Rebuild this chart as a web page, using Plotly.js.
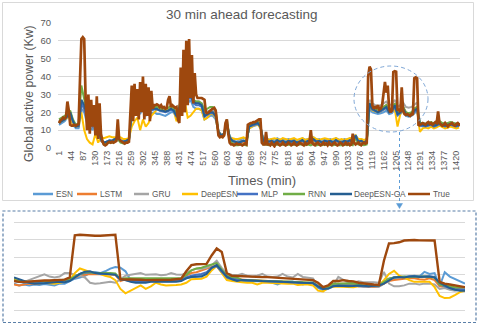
<!DOCTYPE html>
<html><head><meta charset="utf-8">
<script src="https://cdn.plot.ly/plotly-3.0.1.min.js"></script>
<style>html,body{margin:0;padding:0;background:#fff;}#chart{width:480px;height:326px;}</style>
</head><body><div id="chart"></div>
<script>
// ---------------- DATA ----------------
const seriesNames = ["ESN","LSTM","GRU","DeepESN","MLP","RNN","DeepESN-GA","True"];
const seriesColors = ["#5B9BD5","#ED7D31","#A5A5A5","#FFC000","#4472C4","#70AD47","#255E91","#9E480E"];
const xTickLabels = [1,44,87,130,173,216,259,302,345,388,431,474,517,560,603,646,689,732,775,818,861,904,947,990,1033,1076,1119,1162,1205,1248,1291,1334,1377,1420];

// True series, one value every 5 minutes starting at minute 1
const trueStartMin = 1, trueStepMin = 5;
const trueValues = [
14,15.5,16,17,16.5,17.5,26,21,13,12.5,
12.5,13,12.5,13,13.5,38,61,62,61,28,
10,30,8,27,12,24,7,29,5,25,
8,4,2,1.5,2,3,3.5,3,3.5,3,
3.5,4,16,5,4,3.5,3,2.5,3,3,
3.5,20,35,15,36,18,33,16,37,20,
40,16,36,18,34,15,32,22,24,24,
24.5,24,23,24,22.5,23,22,22.5,27,29,
23,24,23,22.5,23,16,14,45,18,55,
20,60,24,61,28,52,25,42,30,28,
28,28,28,27.5,27,20,19.5,20,21,21.5,
22,22.5,21,12,7,6,6.5,6,7,14,
16,8,3,2,2,1.5,2,2.5,2,2,
2,1.5,2,2.5,2,13,13.5,14,14,14.5,
14.5,15,15.5,16,16,3,2,2,9,2,
2,1.5,3,2,1,2.5,3,2,1.5,2,
3,2,1.5,2,3,2.5,1.5,2,3,2,
1.5,2,3,2.5,2,1.5,3,2,2.5,3,
10,3,2,1.5,2.5,3,2,1.5,2,3,
2,2.5,1.5,3,2,1.5,2.5,3,2,1.5,
2,3,2.5,1.5,2,3,2,2.5,1.5,2,
8,3,2,2.5,3,2,1.5,2.5,3,2.5,
3,40,45.5,44,24,22,23,22.5,24,21.5,
22,24,30,37,31,35,22,20,21,42.5,
43,42.7,21,22,20,34,21,19,18.5,19,
18.5,18,19,18.5,39,39.5,39,12.5,13,13.5,
14,13.5,13,14,14.5,13.5,14,13,14,14.5,
14,20.5,14,13,12.5,13,14,13,12,13,
13.5,14,13,12.5,13.5,14,13,13.5];

// Forecasts, one value every 10 minutes starting at minute 1
const predStartMin = 1, predStepMin = 10;
const esnValues = [
13,14,15,17,19,13,11,11,22,20,14,12,
10,14,9,4,2.5,3,4.5,4,5.5,5,4.5,4,
4.5,4,17,19,22,19,23,18,20,19.5,20,19,
19,18.5,18,19,20,20,17,20,29,31,25,27,
23,22,22,21,16,17,18,18,16,9,7.5,8,
13,6.5,5,5,4.5,5,5.5,5,11,12,12.5,13,
12,5,5.5,4.5,5,4,5.5,4.5,5,4.5,5,4.5,
5,4.5,4,5.5,4.5,5,4.5,6,4.5,5,4,5,
4.5,5,4,5.5,4.5,4,5,4.5,5.5,4,7.5,4.5,
5,4,5,22,20,19.5,19,19.5,20,21,19,19.5,
22,18,19,20.5,18,17.5,18,19.5,20.5,12.5,12,12,
12.5,13,12,12.5,13,12.5,12,12.5,13,12.5,12,12.5];
const lstmValues = [
14.5,15.5,16,17.5,19,14,12.5,12.5,25,22,16,14,
12,15,11,4,2.5,3,3.5,3.5,5,5.5,4,3.5,
3.5,4.5,18,21,23,21,25,20,22,21.5,22,22,
22,21.5,21,21.5,22.5,21.5,17.5,21,31,33,27,29,
26,25.5,25,24.5,19,19.5,20.5,20.5,18.5,8.5,6.5,7,
13,5,3,2.5,2.5,3,3.5,3,12.5,13.5,14,14.5,
12,3,3.5,2.5,3,2.5,3.5,2.5,3,2.5,3,2.5,
3,2.5,3,3.5,2.5,3,2.5,4,2.5,3,2.5,3,
2.5,3,2.5,3.5,2.5,2.5,3,2.5,3.5,2.5,6.5,3,
3,2.5,3.5,24,22,21.5,21,21.5,23,24,21,21.5,
25,20,20.5,23,20,19,19.5,22,23,13.5,13.5,13,
13.5,14,13,13.5,14.5,13.5,13,13.5,14,13.5,13,13.5];
const gruValues = [
15,16,16.5,18,20,15,13,13,26,23,17,15,
13,16,12,5,3,3.5,4,4,5.5,6,4.5,4,
4,5,19,22,24,22,26,21,23,22,22.5,22.5,
22,22,21.5,22,23,22,18.5,22,32,34,28,30,
27,26,26,25,20,20.5,21,21,19,9.5,7.5,8,
14,6,4,3.5,3.5,4,4,3.5,13,14,14,14.5,
12.5,4,4,3.5,4,3.5,4,3.5,4,3.5,4,3.5,
4,3.5,3.5,4,3.5,4,3.5,4.5,3.5,4,3.5,4,
3.5,4,3.5,4,3.5,3.5,4,3.5,4,3.5,7,4,
4,3.5,4,27,25,24,23.5,24,25,26,24,24.5,
27,23,24,25.5,23,22.5,23,24.5,25.5,14,14,13.5,
14,14.5,13.5,14,15,14,13.5,14,14.5,14,13.5,14];
const deepEsnValues = [
14,15,16,17,18,13,12,12,20,10,5,3,
2,8,3,6,5.5,6,6.5,6,6,5.5,6,5,
5,5.5,12,15,17,10,16,12,14,18,20,21.5,
22,21.5,21,21.5,22,21,15,18,20,26,17,18,
20,22,22,21,16,17,19,19,17,8,6,7,
13,5,5.5,5,5,5.5,6,5,11,12,13,13.5,
11,5,5.5,4.5,5,5.5,5,4.5,5.5,5,4.5,5,
5.5,4.5,5,5.5,4.5,5,5.5,6,5,4.5,5,5.5,
5,4.5,5,5.5,4.5,5,4.5,5,5.5,4.5,7,5,
5,4.5,5,24,21,20.5,20,20.5,21.5,22.5,20,20.5,
22,12,19,21,19,18,19,20.5,21,9,11,11.5,
11,12,11,11.5,12.5,11.5,11,11.5,12,11.5,11,11.5];
const mlpValues = [
14,15,16,17.5,19.5,14.5,12,12,25,22,16,13.5,
12,15.5,11,4.5,3,3.5,4,4,5,5.5,4,3.5,
4,4.5,19,21,24,21,26,20,22,21,21.5,21.5,
21,20.5,20,20.5,21.5,20.5,17.5,21,31,33,27,29,
25,24,24,23,17.5,18.5,19.5,19.5,17.5,9,7,7.5,
13.5,5.5,4,3.5,3,3.5,4,3.5,12,12.5,13,13.5,
12,4,4,3.5,4,3,4,3.5,4,3,4,3.5,
4,3,3.5,4,3,4,3.5,4.5,3.5,4,3,4,
3.5,4,3,4,3.5,3,4,3.5,4,3,7,3.5,
4,3,4,24,21.5,20.5,20,20.5,21.5,22.5,20,20.5,
23,18.5,19.5,21.5,19,18,19,20.5,21.5,12.5,12.5,12,
12.5,13,12,12.5,13.5,12.5,12,12.5,13,12.5,12,12.5];
const rnnValues = [
16,17,18,19,21,16,13,13.5,35,27,20,17,
15,19,14,5.5,2,2.5,3,3,4,5,3,2.5,
3,4,21,23,27,24,28,23,24,23,23,23,
22.5,22,22,22.5,23.5,22.5,19,23,32,33,30,31,
27,26,26,25,21,22,23,23,21,9,7,8,
16,5.5,2.5,1.5,1.5,2,2,1.5,13,14,14.5,15,
13,2,2,1.5,2,1.5,2,1.5,2,1.5,2,1.5,
2,1.5,2,2,1.5,2,1.5,2.5,1.5,2,1.5,2,
1.5,2,1.5,2,1.5,1.5,2,1.5,2,1.5,6,2,
2,1.5,2,25,23,22,21.5,22,23,24,22,22,
25,20.5,21,23,20,19.5,20,22,23,14,14,13.5,
14,14.5,13.5,14,15,14,13.5,14,14.5,14,13.5,14];
const deepEsnGaValues = [
14,15,16,18,20,15,12,12.5,27,24,18,15,
13,17,12,5,3,3.5,4,4,5,6,4,3.5,
4,5,20,22,25,22,27,21,23,22,22,22,
21,21,20.5,21,22,21,18,22,33,35,28,30,
26,25,25,24,18,19,20,20,18,9,7,8,
14,6,4,3.5,3,3.5,4,3.5,12,13,13.5,14,
12,4,4.5,3.5,4,3,4.5,3.5,4,3,4,3.5,
4,3,3.5,4.5,3,4,3.5,5,3.5,4,3,4,
3.5,4,3,4.5,3.5,3,4,3.5,4.5,3,7,3.5,
4,3,4,25,22,21,20,21,22,23,20,21,
24,19,20,22,19,18,19,21,22,13,13,12.5,
13,13.5,12.5,13,14,13,12.5,13,13.5,13,12.5,13];

// Zoomed detail (inset), one value per step
const insetEsn = [15,14,14.5,14,14.5,14.2,14.8,14.5,14,15,15,16.5,17.8,18.5,19.5,21,21.6,21,22,23.5,24.4,24,22,17,17.5,16.5,17,16.5,17.5,17,16.8,17.3,17,17.3,18,18.8,19,19.5,20.5,23.5,25,21.5,17.8,17,17,16.5,16.3,16.3,16.5,16.2,16.3,15.5,14.5,15.8,16,16.2,15.5,14.5,15.5,15.8,12.5,11.3,12,13.5,14,14,14,14.2,13.5,13.2,13.1,13.3,13.2,15,17.8,18.5,18.8,18.5,19,19.5,19,21.7,20.5,21,13.5,21.5,19,17.8,16.5,15];
const insetLstm = [14.5,14,14.5,15,15,15.2,15.5,15.8,16,16.5,17,17.5,18.5,19.7,20,20.5,20.3,20.6,20.5,20.2,20,16.5,17.5,17.8,17.5,17.5,17.5,17.6,17.5,17.5,17.6,17.5,17.5,17.8,19.5,21,21.5,22.5,23.5,24.5,25.5,22,18.8,17.8,17.5,17,17,16.9,16.8,16.8,16.7,16.6,16.5,16.4,16.3,16.2,16,16,15.5,15,14,13,13.5,15,15,15,15.1,15,13.5,13.2,13.3,13.2,13.5,15,16.5,17,17.5,17.8,18,18,17.5,17.2,18,17,13.5,13,12.8,12.5,12.5,12.5];
const insetGru = [16.9,16,16,17,18,19,20.3,19,18.5,19,21,21,20,19.5,18.5,15.5,15,15.2,15.5,16,15.5,17.5,19.5,20,20.5,21,20,20,20.3,19.8,20,21,20.2,20,21,22.5,23.5,23.5,24,25.5,28,24,20.5,20,19.7,20.6,19.5,19,19.5,20.5,19,18.8,19,20.5,19,18.5,20.5,18.8,18.5,18,13.5,12,13,14,18.8,17,15.5,15.5,16.3,15.8,16,15.8,15.5,21.6,15,13.5,13.5,14,15,15,14.5,15,15,14.5,12,12.5,11.5,11,11.5,12];
const insetDeepEsn = [17.8,16.9,15.5,15.3,15,15.2,15.5,15.3,15,15.5,16,17,21,23.6,22.5,21.6,21,20.5,19.5,18.8,17,12,9.5,11,12.3,14,12,13.5,15.5,14.5,14,14,14.2,14.5,15.5,17.5,17.8,17.8,19,22.5,25,21,17,16.5,16,15.8,15.5,15.5,14.5,15.5,15.5,15.3,15.2,15,15,15,14.2,14.5,14.5,14,11,10.5,12.5,13.3,13.3,13.2,13.1,13,13.5,14,14,13.8,14,17,20.5,22.3,19.5,18.5,17,16,16,16,16,13,8,6.8,7,8.5,10.2,11];
const insetMlp = [16.5,16,15.5,15.5,15.8,16,15.8,16,16.2,16.5,16.5,17,19,20.5,21,21.5,21,20.5,20.8,20.5,20.3,17.5,17,16.5,16.5,16.3,16.5,16.3,16.5,16.3,16.5,16.3,16.5,17,18.5,19.5,20,20.5,21.5,24,25,22,18.5,17.8,17.3,17,16.8,16.7,16.5,16.5,16.4,16.3,16.2,16,16,15.8,15.7,15.5,15.3,15.2,13,12,12.5,14,14.2,14.2,14,14,13.8,13.5,13.5,13.6,13.8,15.5,17.5,18.5,18.8,18.8,19,19,19.2,19,19.2,18.8,14.5,13.5,12.5,12,11.8,11.5];
const insetRnn = [16.9,16.5,16,16,16.3,16.5,16.2,16.5,16.5,16.8,17,17.5,19,20.5,21.5,21.5,21,21.2,21,21,20.8,17.5,18,18,18,18,17.8,18,17.8,18,17.8,18,18,18.2,20,22.5,23.6,24,25,26,26.7,23,19.5,18.7,18.5,17,17,16.8,16.8,16.7,16.5,16.5,16.3,16.5,16.2,16,16,15.8,15.7,15.5,13.5,12.5,13,15,15,15,15,15.2,14.5,14,14.2,14,14,16,17.8,18.5,18.8,19,18.8,19,18.8,19,18.8,18.5,14.5,14,13.5,13,13,13];
const insetDeepEsnGa = [18.5,17.5,16.5,15.5,15,15,15.2,15.5,15.8,16,15.8,16.5,18.5,20.5,21.8,22,21,20.8,20.5,20.5,20,17.5,17,16,15.5,15.5,15.5,16,16,16,15.8,16,16,16.5,18,18.8,19,19,20.5,24,25.6,22,19,17.5,16.5,17,17,16.8,16.7,16.5,16.5,16.3,16.2,16,16,15.8,15.7,15.5,15.5,15.3,13.5,12,12.2,13.5,13.8,13.5,13.5,13.6,14,13.8,13.5,13.8,14,15,17,18.5,18.8,18.5,19,19.2,18.8,18.8,19,18.5,15.5,14,12.5,11.5,11,11];
const insetTrue = [16.5,16,16,16.3,16.5,16.5,16.8,16.8,17,17,17.3,18.5,42.5,42.8,42.5,42.3,42.2,42.2,42.3,42.5,42.8,17.5,17.5,17.5,17.3,17.2,17,17,16.9,16.9,17,17.2,17.5,17.8,22,25.5,26,26,26.2,31,35,33,21,19.5,19.3,19.2,19,19,18.8,18.7,18.7,18.5,18.4,18.3,18.2,18,17.8,17.6,17.3,17,15.5,13,14,16.5,16.5,17,16.5,16.3,15.5,15,14.8,14.5,14.3,28,37.8,38,38.5,39.5,39.8,39.8,39.6,39.5,39.5,39.5,16,15,14.5,14,13.5,13];

// ---------------- BUILD ----------------
function times(start, step, n){ const a=[]; for(let i=0;i<n;i++) a.push(start+i*step); return a; }
const predSeries = [esnValues,lstmValues,gruValues,deepEsnValues,mlpValues,rnnValues,deepEsnGaValues];
const insetSeries = [insetEsn,insetLstm,insetGru,insetDeepEsn,insetMlp,insetRnn,insetDeepEsnGa,insetTrue];

const W=480,H=326;
const px = x => x/W;
const py = y => 1 - y/H;

const traces = [];
predSeries.forEach((vals,i)=>{
  traces.push({x:times(predStartMin,predStepMin,vals.length), y:vals, type:'scatter', mode:'lines',
    name:seriesNames[i], line:{color:seriesColors[i], width:2}, xaxis:'x', yaxis:'y', hoverinfo:'skip'});
});
traces.push({x:times(trueStartMin,trueStepMin,trueValues.length), y:trueValues, type:'scatter', mode:'lines',
  name:'True', line:{color:seriesColors[7], width:2.7}, xaxis:'x', yaxis:'y', hoverinfo:'skip'});
insetSeries.forEach((vals,i)=>{
  traces.push({x:times(0,1,vals.length), y:vals, type:'scatter', mode:'lines',
    name:seriesNames[i], line:{color:seriesColors[i], width:(i===7?2.4:2)}, xaxis:'x2', yaxis:'y2', hoverinfo:'skip', showlegend:false});
});

const txt = '#595959';
const baseFont = 'Liberation Sans, Arial, sans-serif';
const shapes = [
  {type:'rect', xref:'paper', yref:'paper', x0:px(2.5), x1:px(473.5), y0:py(200.5), y1:py(2.5), line:{color:'#D9D9D9', width:1}, layer:'below'},
  {type:'rect', xref:'paper', yref:'paper', x0:px(3), x1:px(476), y0:py(322.5), y1:py(211), line:{color:'#5A7FA8', width:1.2, dash:'3px,2px'}, layer:'above'},
  {type:'circle', xref:'paper', yref:'paper', x0:px(354), x1:px(428), y0:py(132), y1:py(66), line:{color:'#7FA7D6', width:1, dash:'4px,3px'}, layer:'above'},
  {type:'line', xref:'paper', yref:'paper', x0:px(399.5), x1:px(399.5), y0:py(132), y1:py(204), line:{color:'#5B9BD5', width:1, dash:'3px,3px'}, layer:'above'},
  {type:'path', xref:'paper', yref:'paper', path:`M ${px(396.5)} ${py(203.5)} L ${px(402.5)} ${py(203.5)} L ${px(399.5)} ${py(208.5)} Z`, fillcolor:'#5B9BD5', line:{color:'#5B9BD5', width:0.5}, layer:'above'}
];
const legendLines = [[33,53],[77,97],[134,149],[182,198],[237,258],[283,305],[330,352],[408,430]];
const legendText = [55,99,151,200,260,307,353,432];
const legendY = 194;
const annotations = [
  {text:'30 min ahead forecasting', xref:'paper', yref:'paper', x:px(241.5), y:py(15), xanchor:'center', yanchor:'middle', showarrow:false, font:{family:baseFont, size:13.5, color:txt}},
  {text:'Times (min)', xref:'paper', yref:'paper', x:px(262), y:py(180.5), xanchor:'center', yanchor:'middle', showarrow:false, font:{family:baseFont, size:13, color:txt}},
  {text:'Global active power (Kw)', xref:'paper', yref:'paper', x:px(29), y:py(94), xanchor:'center', yanchor:'middle', textangle:-90, showarrow:false, font:{family:baseFont, size:12.3, color:txt}}
];
seriesNames.forEach((n,i)=>{
  shapes.push({type:'line', xref:'paper', yref:'paper', x0:px(legendLines[i][0]), x1:px(legendLines[i][1]), y0:py(legendY), y1:py(legendY), line:{color:seriesColors[i], width:2.5}});
  annotations.push({text:n, xref:'paper', yref:'paper', x:px(legendText[i]-1), y:py(legendY), xanchor:'left', yanchor:'middle', showarrow:false,
    font:{family:baseFont, size:8.3, color:txt}});
});

const layout = {
  width:W, height:H, margin:{l:0,r:0,t:0,b:0}, paper_bgcolor:'#fff', plot_bgcolor:'rgba(0,0,0,0)',
  showlegend:false,
  xaxis:{domain:[px(58),px(460)], range:[-2.6,1434.3], tickmode:'array', tickvals:xTickLabels, ticktext:xTickLabels.map(String),
    tickangle:-90, tickfont:{family:baseFont, size:9, color:txt}, showgrid:false, zeroline:false, showline:false, ticks:'', anchor:'y', fixedrange:true},
  yaxis:{domain:[1-148/H, 1-23/H], range:[0,70], dtick:10, tick0:0, gridcolor:'#D9D9D9', gridwidth:1, zeroline:false, showline:false, ticks:'',
    ticklabelstandoff:6, tickfont:{family:baseFont, size:9.5, color:txt}, anchor:'x', fixedrange:true},
  xaxis2:{domain:[px(14),px(465)], range:[0,89], showgrid:false, zeroline:false, showline:false, showticklabels:false, ticks:'', anchor:'y2', fixedrange:true},
  yaxis2:{domain:[1-315.3/H, 1-215/H], range:[-3,54], dtick:10, tick0:0, gridcolor:'#D9D9D9', gridwidth:1, zeroline:false, showline:false, showticklabels:false, ticks:'', anchor:'x2', fixedrange:true},
  shapes:shapes, annotations:annotations
};
Plotly.newPlot('chart', traces, layout, {staticPlot:true, displayModeBar:false});
</script></body></html>
